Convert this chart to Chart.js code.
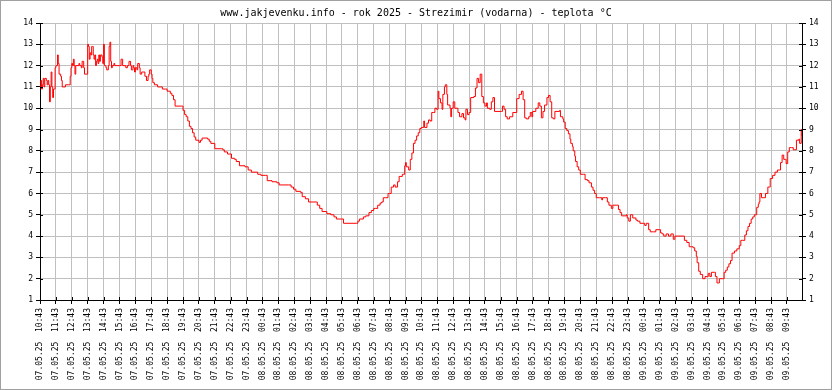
<!DOCTYPE html>
<html>
<head>
<meta charset="utf-8">
<title>Strezimir - teplota</title>
<script src="https://cdn.jsdelivr.net/npm/chart.js@4.4.1/dist/chart.umd.min.js"></script>
<style>
  html, body { margin: 0; padding: 0; background: #fff; }
  canvas { display: block; }
</style>
</head>
<body>
<canvas id="tempChart" width="832" height="390"></canvas>
<script>
const chartTitle = 'www.jakjevenku.info - rok 2025 - Strezimir (vodarna) - teplota °C';

// hourly tick labels (first one at 07.05.25 10:43)
const timeLabels = [
    '07.05.25  10:43', '07.05.25  11:43', '07.05.25  12:43', '07.05.25  13:43',
    '07.05.25  14:43', '07.05.25  15:43', '07.05.25  16:43', '07.05.25  17:43',
    '07.05.25  18:43', '07.05.25  19:43', '07.05.25  20:43', '07.05.25  21:43',
    '07.05.25  22:43', '07.05.25  23:43', '08.05.25  00:43', '08.05.25  01:43',
    '08.05.25  02:43', '08.05.25  03:43', '08.05.25  04:43', '08.05.25  05:43',
    '08.05.25  06:43', '08.05.25  07:43', '08.05.25  08:43', '08.05.25  09:43',
    '08.05.25  10:43', '08.05.25  11:43', '08.05.25  12:43', '08.05.25  13:43',
    '08.05.25  14:43', '08.05.25  15:43', '08.05.25  16:43', '08.05.25  17:43',
    '08.05.25  18:43', '08.05.25  19:43', '08.05.25  20:43', '08.05.25  21:43',
    '08.05.25  22:43', '08.05.25  23:43', '09.05.25  00:43', '09.05.25  01:43',
    '09.05.25  02:43', '09.05.25  03:43', '09.05.25  04:43', '09.05.25  05:43',
    '09.05.25  06:43', '09.05.25  07:43', '09.05.25  08:43', '09.05.25  09:43'
];

const yTicks = [1, 2, 3, 4, 5, 6, 7, 8, 9, 10, 11, 12, 13, 14];

// hours since the first label, and measured temperature (°C)
const hours = [
    0.00, 0.05, 0.10, 0.15, 0.20, 0.25, 0.30, 0.40, 0.45, 0.50, 0.55, 0.60, 0.65, 0.70, 0.75, 0.80,
    0.85, 0.90, 0.95, 1.00, 1.10, 1.15, 1.20, 1.30, 1.35, 1.40, 1.50, 1.60, 1.80, 1.90, 1.95, 2.00,
    2.05, 2.10, 2.15, 2.20, 2.25, 2.40, 2.45, 2.50, 2.60, 2.65, 2.75, 2.80, 2.95, 3.00, 3.05, 3.10,
    3.15, 3.20, 3.25, 3.30, 3.35, 3.40, 3.45, 3.50, 3.55, 3.60, 3.65, 3.70, 3.75, 3.80, 3.90, 3.95,
    4.00, 4.05, 4.10, 4.15, 4.20, 4.30, 4.35, 4.40, 4.45, 4.50, 4.55, 4.65, 4.70, 5.00, 5.10, 5.20,
    5.40, 5.50, 5.60, 5.70, 5.75, 5.85, 5.90, 5.95, 6.00, 6.10, 6.15, 6.25, 6.30, 6.40, 6.50, 6.60,
    6.70, 6.80, 6.85, 6.90, 7.00, 7.05, 7.10, 7.20, 7.40, 7.60, 7.70, 7.90, 8.00, 8.20, 8.30, 8.40,
    8.50, 8.90, 9.00, 9.10, 9.20, 9.30, 9.40, 9.50, 9.60, 9.70, 9.80, 10.00, 10.10, 10.20, 10.45, 10.55,
    10.65, 10.75, 10.95, 11.00, 11.40, 11.50, 11.60, 11.80, 11.95, 12.05, 12.25, 12.35, 12.55, 12.90, 13.10, 13.30,
    13.60, 13.70, 13.90, 14.20, 14.30, 14.60, 14.90, 15.05, 15.65, 15.80, 15.95, 16.10, 16.40, 16.50, 16.70, 16.90,
    17.40, 17.45, 17.60, 17.75, 18.00, 18.05, 18.30, 18.50, 18.65, 18.95, 19.10, 19.90, 20.00, 20.10, 20.35, 20.50,
    20.70, 20.85, 21.00, 21.10, 21.25, 21.40, 21.50, 21.60, 21.75, 21.90, 22.00, 22.10, 22.25, 22.35, 22.50, 22.60,
    22.80, 22.90, 22.95, 23.00, 23.05, 23.20, 23.30, 23.40, 23.50, 23.60, 23.70, 23.80, 23.90, 24.00, 24.15, 24.20,
    24.35, 24.45, 24.55, 24.65, 24.75, 24.85, 24.95, 25.05, 25.10, 25.20, 25.30, 25.35, 25.45, 25.50, 25.60, 25.65,
    25.80, 25.85, 25.90, 26.00, 26.10, 26.25, 26.30, 26.40, 26.55, 26.65, 26.75, 26.80, 26.90, 27.00, 27.10, 27.25,
    27.30, 27.40, 27.50, 27.60, 27.70, 27.80, 27.90, 28.00, 28.10, 28.15, 28.30, 28.40, 28.50, 28.60, 29.05, 29.10,
    29.20, 29.30, 29.40, 29.55, 29.75, 29.95, 30.00, 30.15, 30.30, 30.40, 30.50, 30.60, 30.75, 30.85, 30.95, 31.00,
    31.20, 31.35, 31.45, 31.55, 31.65, 31.75, 31.90, 32.00, 32.10, 32.20, 32.30, 32.40, 32.70, 32.75, 32.90, 32.95,
    33.05, 33.15, 33.25, 33.35, 33.40, 33.50, 33.55, 33.65, 33.70, 33.80, 33.90, 34.00, 34.20, 34.30, 34.45, 34.55,
    34.70, 34.80, 34.90, 35.00, 35.20, 35.35, 35.40, 35.60, 35.70, 35.80, 35.95, 36.05, 36.30, 36.40, 36.50, 36.60,
    36.75, 36.90, 36.95, 37.05, 37.15, 37.30, 37.50, 37.60, 37.75, 37.95, 38.05, 38.15, 38.30, 38.40, 38.60, 38.75,
    39.00, 39.05, 39.15, 39.25, 39.40, 39.55, 39.70, 39.85, 39.95, 40.15, 40.50, 40.55, 40.70, 40.85, 41.00, 41.10,
    41.20, 41.30, 41.35, 41.45, 41.55, 41.70, 41.85, 42.00, 42.05, 42.15, 42.25, 42.45, 42.50, 42.60, 42.70, 42.75,
    42.95, 43.05, 43.15, 43.25, 43.35, 43.45, 43.55, 43.70, 43.85, 44.00, 44.10, 44.20, 44.35, 44.45, 44.55, 44.65,
    44.75, 44.85, 44.95, 45.05, 45.10, 45.20, 45.25, 45.30, 45.40, 45.55, 45.65, 45.75, 45.80, 45.90, 45.95, 46.10,
    46.25, 46.40, 46.55, 46.60, 46.70, 46.80, 46.90, 46.95, 47.05, 47.15, 47.30, 47.40, 47.50, 47.60, 47.75, 47.80,
    47.90, 47.95
];

const temps = [
    11.0, 11.3, 10.9, 11.1, 11.4, 11.0, 11.4, 11.3, 11.1, 11.3, 11.1, 10.3, 11.0, 11.7, 11.0, 10.5,
    10.9, 10.9, 11.9, 12.0, 12.5, 12.1, 11.6, 11.5, 11.3, 11.0, 11.0, 11.1, 11.1, 11.5, 11.9, 12.1,
    12.0, 12.3, 12.0, 11.6, 12.0, 12.0, 12.1, 12.0, 11.9, 12.2, 11.9, 11.6, 11.6, 13.0, 12.9, 12.3,
    12.6, 12.5, 12.9, 12.9, 12.5, 12.3, 12.5, 12.0, 12.2, 12.3, 12.1, 12.5, 12.2, 12.5, 12.4, 12.1,
    13.0, 12.0, 12.0, 11.9, 11.8, 12.0, 12.9, 13.1, 12.2, 11.9, 12.0, 12.1, 12.0, 12.0, 12.3, 12.0,
    11.9, 12.0, 12.2, 12.0, 11.8, 12.0, 11.9, 11.7, 11.9, 11.8, 12.1, 11.9, 11.6, 11.7, 11.7, 11.5,
    11.3, 11.5, 11.6, 11.8, 11.6, 11.4, 11.2, 11.1, 11.0, 11.0, 10.9, 10.9, 10.8, 10.7, 10.6, 10.4,
    10.1, 10.1, 9.9, 9.7, 9.6, 9.4, 9.15, 9.05, 8.85, 8.65, 8.5, 8.4, 8.5, 8.6, 8.6, 8.55,
    8.45, 8.35, 8.35, 8.1, 8.1, 8.05, 7.95, 7.85, 7.85, 7.65, 7.6, 7.5, 7.3, 7.25, 7.1, 7.0,
    7.0, 6.9, 6.85, 6.85, 6.6, 6.55, 6.5, 6.4, 6.4, 6.3, 6.2, 6.1, 6.05, 5.85, 5.75, 5.6,
    5.6, 5.45, 5.3, 5.15, 5.15, 5.05, 5.0, 4.9, 4.8, 4.8, 4.6, 4.6, 4.7, 4.8, 4.9, 4.95,
    5.1, 5.2, 5.3, 5.3, 5.45, 5.55, 5.6, 5.8, 5.8, 6.0, 6.0, 6.3, 6.4, 6.3, 6.55, 6.8,
    6.9, 6.9, 7.3, 7.45, 7.25, 7.1, 7.6, 7.9, 8.35, 8.5, 8.7, 8.85, 9.05, 9.1, 9.4, 9.1,
    9.3, 9.45, 9.4, 9.8, 9.8, 10.0, 9.95, 10.8, 10.45, 10.25, 9.95, 10.65, 11.0, 11.1, 10.65, 10.15,
    10.0, 9.6, 10.0, 10.3, 10.0, 10.0, 9.8, 9.6, 9.75, 9.55, 9.45, 9.95, 9.7, 9.8, 10.5, 10.5,
    10.55, 10.95, 11.4, 11.2, 11.6, 10.55, 10.25, 10.1, 10.25, 10.0, 9.95, 10.3, 10.5, 9.85, 9.85, 10.1,
    9.95, 9.6, 9.5, 9.6, 9.8, 9.8, 10.45, 10.65, 10.8, 10.4, 9.55, 9.5, 9.6, 9.8, 9.6, 9.85,
    10.0, 10.25, 10.1, 9.55, 9.85, 10.15, 10.5, 10.6, 10.3, 9.55, 9.5, 9.85, 9.9, 9.6, 9.5, 9.35,
    9.05, 8.95, 8.8, 8.55, 8.35, 8.2, 8.0, 7.75, 7.5, 7.25, 7.1, 6.9, 6.9, 6.65, 6.6, 6.5,
    6.3, 6.15, 6.0, 5.8, 5.8, 5.7, 5.8, 5.8, 5.6, 5.45, 5.3, 5.45, 5.45, 5.25, 5.1, 4.95,
    4.95, 5.0, 4.85, 4.7, 5.0, 4.85, 4.75, 4.7, 4.6, 4.6, 4.5, 4.6, 4.3, 4.2, 4.2, 4.3,
    4.3, 4.15, 4.1, 4.0, 4.1, 4.0, 4.1, 3.85, 4.0, 4.0, 4.0, 3.8, 3.7, 3.5, 3.5, 3.45,
    3.3, 3.05, 2.75, 2.35, 2.2, 2.0, 2.1, 2.1, 2.25, 2.1, 2.3, 2.3, 2.1, 1.8, 1.8, 2.0,
    2.0, 2.3, 2.4, 2.55, 2.7, 2.85, 3.2, 3.3, 3.4, 3.55, 3.8, 3.8, 4.05, 4.25, 4.45, 4.6,
    4.8, 4.9, 5.0, 5.0, 5.35, 5.5, 5.6, 6.0, 5.8, 5.8, 6.0, 6.0, 6.3, 6.3, 6.7, 6.85,
    7.0, 7.1, 7.1, 7.45, 7.8, 7.6, 7.6, 7.4, 7.95, 8.15, 8.15, 8.05, 8.05, 8.5, 8.55, 8.35,
    9.0, 8.7
];

const points = hours.map((h, i) => ({ x: h, y: temps[i] }));

const monoFont = "'DejaVu Sans Mono', 'Liberation Mono', monospace";

// white background + thin grey frame round the picture
const framePlugin = {
    id: 'frame',
    beforeDraw(chart) {
        const c = chart.ctx;
        c.save();
        c.fillStyle = '#ffffff';
        c.fillRect(0, 0, chart.width, chart.height);
        c.strokeStyle = '#a0a0a0';
        c.lineWidth = 1;
        c.strokeRect(0.5, 0.5, chart.width - 1, chart.height - 1);
        c.restore();
    }
};

// the original's tick marks cross the axis lines, so add the short inner part
const innerTicks = {
    id: 'innerTicks',
    afterDatasetsDraw(chart) {
        const c = chart.ctx;
        const a = chart.chartArea;
        const xs = chart.scales.x, ys = chart.scales.y;
        c.save();
        c.strokeStyle = '#000';
        c.lineWidth = 1;
        c.beginPath();
        xs.ticks.forEach(t => {
            const px = Math.round(xs.getPixelForValue(t.value)) + 0.5;
            c.moveTo(px, a.bottom);
            c.lineTo(px, a.bottom - 3);
        });
        ys.ticks.forEach(t => {
            const py = Math.round(ys.getPixelForValue(t.value)) + 0.5;
            c.moveTo(a.left, py);
            c.lineTo(a.left + 3, py);
            c.moveTo(a.right, py);
            c.lineTo(a.right - 3, py);
        });
        c.stroke();
        c.restore();
    }
};

const yAxis = (pos, width) => ({
    position: pos,
    min: yTicks[0],
    max: yTicks[yTicks.length - 1],
    afterBuildTicks: (scale) => { scale.ticks = yTicks.map(v => ({ value: v })); },
    afterFit: (scale) => { scale.width = width; },
    grid: {
        display: true,
        drawOnChartArea: pos === 'left',
        color: '#c0c0c0',
        tickColor: '#000',
        tickLength: 4
    },
    border: { display: true, color: '#000', width: 1 },
    ticks: {
        color: '#000',
        padding: 3,
        font: { family: monoFont, size: 8 }
    }
});

const ctx = document.getElementById('tempChart').getContext('2d');
const tempChart = new Chart(ctx, {
    type: 'line',
    data: {
        datasets: [{
            label: 'teplota',
            data: points,
            borderColor: '#ff0000',
            borderWidth: 1,
            pointRadius: 0,
            stepped: true,
            fill: false
        }]
    },
    options: {
        responsive: false,
        animation: false,
        devicePixelRatio: 1,
        layout: { padding: 0 },
        plugins: {
            legend: { display: false },
            tooltip: { enabled: false },
            title: {
                display: true,
                text: chartTitle,
                color: '#000',
                font: { family: monoFont, size: 10, weight: 'normal', lineHeight: 1.2 },
                padding: { top: 7, bottom: 4 }
            }
        },
        scales: {
            x: {
                type: 'linear',
                min: 0,
                max: 47.95,
                afterBuildTicks: (scale) => { scale.ticks = timeLabels.map((_, i) => ({ value: i })); },
                afterFit: (scale) => { scale.height = 90; },
                grid: { color: '#c0c0c0', tickColor: '#000', tickLength: 4 },
                border: { display: true, color: '#000', width: 1 },
                ticks: {
                    autoSkip: false,
                    maxRotation: 90,
                    minRotation: 90,
                    padding: 4,
                    color: '#000',
                    font: { family: monoFont, size: 8 },
                    callback: (v) => timeLabels[v] || ''
                }
            },
            y: yAxis('left', 40),
            y2: yAxis('right', 30)
        }
    },
    plugins: [framePlugin, innerTicks]
});
</script>
</body>
</html>
